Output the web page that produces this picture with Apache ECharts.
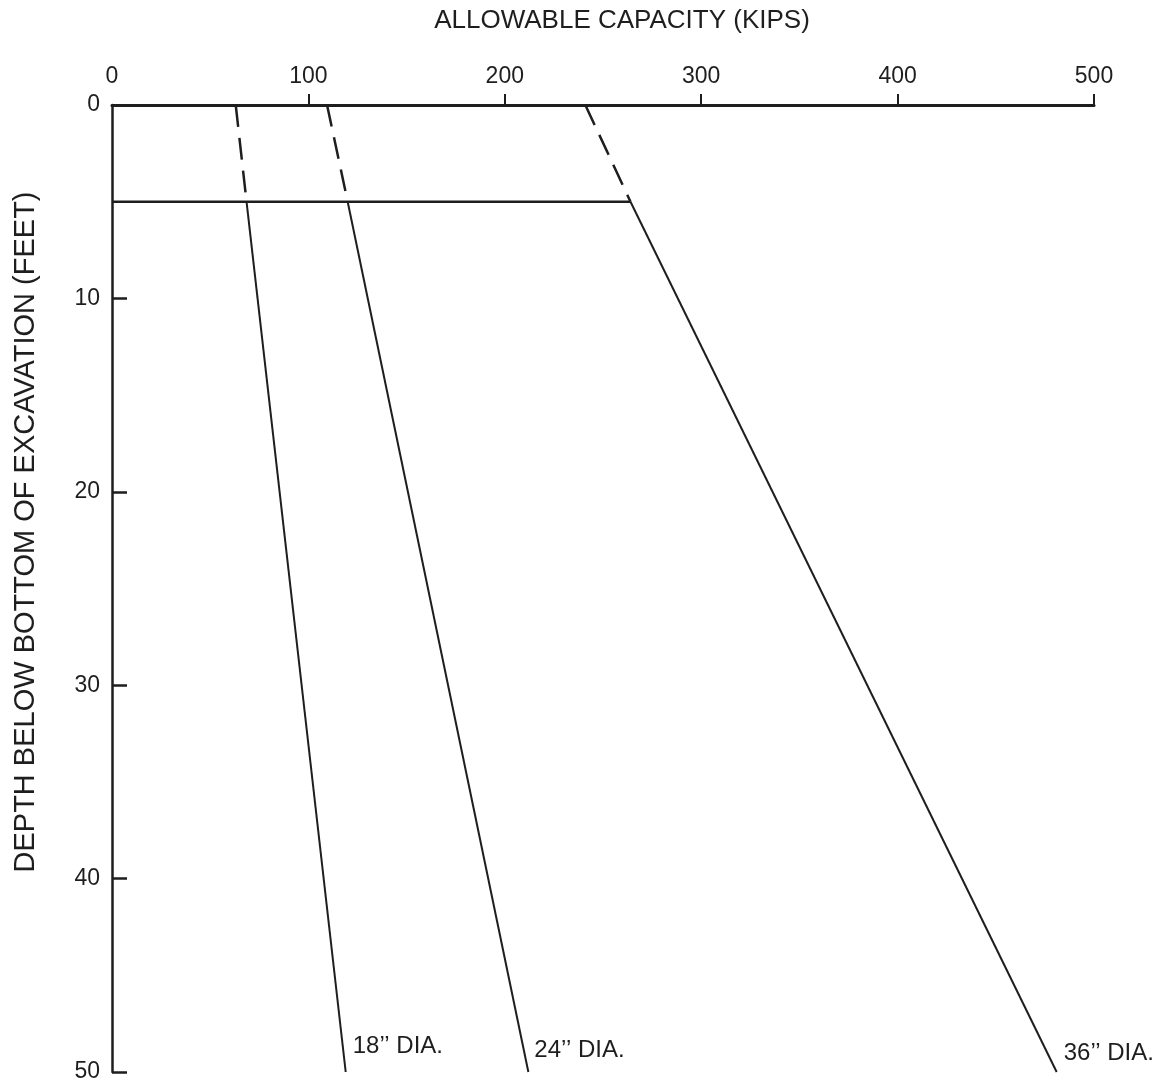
<!DOCTYPE html>
<html>
<head>
<meta charset="utf-8">
<script src="https://cdn.jsdelivr.net/npm/echarts@6/dist/echarts.min.js"></script>
<style>
  html, body { margin: 0; padding: 0; background: #fff; }
  #chart { width: 1173px; height: 1087px; }
</style>
</head>
<body>
<div id="chart"></div>
<script>
// Allowable pile capacity (kips) against depth below bottom of excavation (feet)
const capacityTicks = [0, 100, 200, 300, 400, 500];
const depthTicks = [0, 10, 20, 30, 40, 50];

// Each pile diameter: dashed segment from 0 to 5 ft, solid segment from 5 to 50 ft
const pileNames = ['18\u2019\u2019 DIA.', '24\u2019\u2019 DIA.', '36\u2019\u2019 DIA.'];
const upperDepths = [0, 5];
const lowerDepths = [5, 50];
const upperCapacity18 = [63, 68.5];
const lowerCapacity18 = [68.5, 119];
const upperCapacity24 = [109.5, 120];
const lowerCapacity24 = [120, 212];
const upperCapacity36 = [241, 264];
const lowerCapacity36 = [264, 481];
// Horizontal reference at 5 ft running out to the 36" line
const shelfCapacity = [0, 264];
const shelfDepth = [5, 5];

const ink = '#1e1e1e';
const font = "'Liberation Sans', Arial, Helvetica, sans-serif";

function pairs(xs, ys) { return xs.map((x, i) => [x, ys[i]]); }

function segment(xs, ys, dashed, width) {
  return {
    type: 'line',
    data: pairs(xs, ys),
    showSymbol: false,
    symbol: 'none',
    silent: true,
    lineStyle: { color: ink, width: width || 2, type: dashed ? [22, 11] : 'solid' },
    z: 3
  };
}

function labelled(xs, ys, name, offset) {
  const s = segment(xs, ys, false, 2);
  s.name = name;
  s.endLabel = {
    show: true,
    formatter: name,
    color: ink,
    fontFamily: font,
    fontSize: 24,
    align: 'left',
    verticalAlign: 'middle',
    distance: 0,
    offset: offset
  };
  return s;
}

const chart = echarts.init(document.getElementById('chart'), null, { renderer: 'canvas' });

chart.setOption({
  animation: false,
  backgroundColor: '#fff',
  grid: { left: 112, right: 79, top: 105, bottom: 15, containLabel: false },
  xAxis: {
    type: 'value',
    position: 'top',
    min: capacityTicks[0],
    max: capacityTicks[capacityTicks.length - 1],
    interval: 100,
    axisLine: { show: true, onZero: false, lineStyle: { color: ink, width: 3 } },
    axisTick: { show: true, inside: false, length: 11, customValues: capacityTicks.slice(1), lineStyle: { color: ink, width: 2 } },
    axisLabel: { margin: 17, color: ink, fontFamily: font, fontSize: 23 },
    splitLine: { show: false }
  },
  yAxis: {
    type: 'value',
    inverse: true,
    min: depthTicks[0],
    max: depthTicks[depthTicks.length - 1],
    interval: 10,
    axisLine: { show: true, onZero: false, lineStyle: { color: ink, width: 2.5 } },
    axisTick: { show: true, inside: true, length: 15, customValues: depthTicks.slice(1), lineStyle: { color: ink, width: 2.5 } },
    axisLabel: { margin: 12, color: ink, fontFamily: font, fontSize: 23 },
    splitLine: { show: false }
  },
  graphic: [
    {
      type: 'text',
      x: 622, y: 21,
      style: {
        text: 'ALLOWABLE CAPACITY (KIPS)',
        fill: ink,
        font: '26px ' + font,
        textAlign: 'center',
        textVerticalAlign: 'middle'
      }
    },
    {
      type: 'text',
      x: 26, y: 532,
      rotation: Math.PI / 2,
      style: {
        text: 'DEPTH BELOW BOTTOM OF EXCAVATION (FEET)',
        fill: ink,
        font: '29px ' + font,
        textAlign: 'center',
        textVerticalAlign: 'middle'
      }
    }
  ],
  series: [
    segment(shelfCapacity, shelfDepth, false, 2.5),
    segment(upperCapacity18, upperDepths, true, 2.5),
    segment(upperCapacity24, upperDepths, true, 2.5),
    segment(upperCapacity36, upperDepths, true, 2.5),
    labelled(lowerCapacity18, lowerDepths, pileNames[0], [7, -26]),
    labelled(lowerCapacity24, lowerDepths, pileNames[1], [6, -22]),
    labelled(lowerCapacity36, lowerDepths, pileNames[2], [7, -19])
  ]
});
</script>
</body>
</html>
